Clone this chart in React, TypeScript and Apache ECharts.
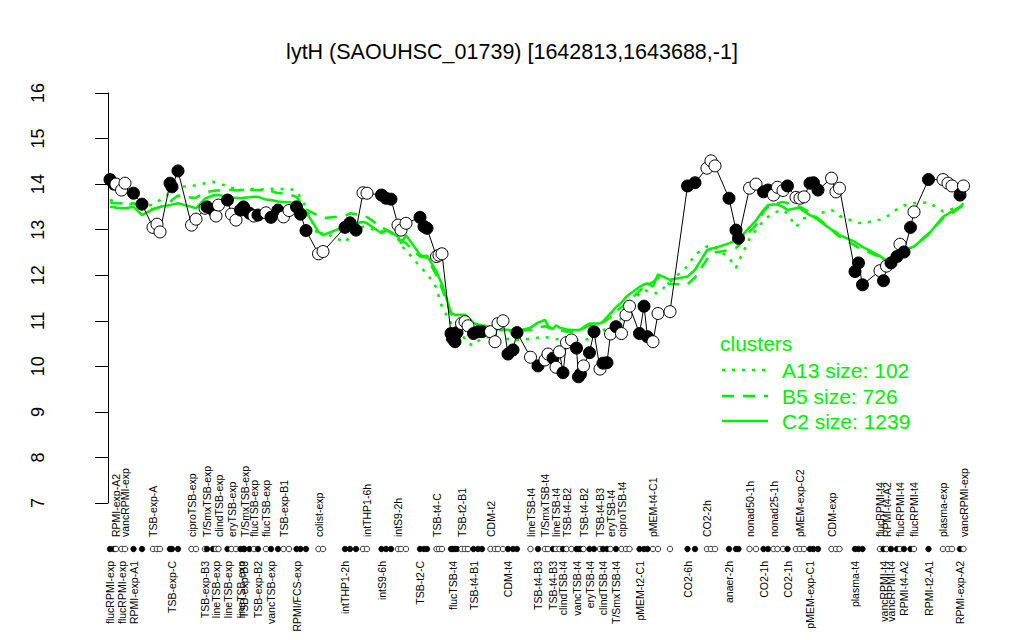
import React, { useEffect, useRef } from 'react';
import * as echarts from 'echarts';

const FONT = '"Liberation Sans", Arial, Helvetica, sans-serif';
const GREEN = '#00ee00';

const titleText = 'lytH (SAOUHSC_01739) [1642813,1643688,-1]';

// position of each sample along the profile (arbitrary ordering units)
const samplePos = [
  1, 3, 4, 6.75, 8.5, 12.75, 17, 22.5, 24.5, 26,
  31, 32, 35, 41.75, 44, 48.5, 49.5, 52.5, 54, 55.25,
  59.75, 61.75, 64, 66.25, 67.75, 68.25, 70.75, 73, 75, 79,
  81.5, 85, 87.75, 90.5, 94.25, 96.25, 99, 105.25, 107.5, 118.5,
  121, 124, 127.5, 129.5, 136.75, 139, 141.5, 145, 146.5, 149,
  156, 158, 159.5, 164.25, 165.5, 167, 171.5, 172.25, 173.5, 174.5,
  176.75, 178.5, 180, 182.75, 185, 187, 191.25, 193.5, 195, 197.5,
  200, 202.5, 204.5, 211.25, 215, 218.5, 220, 222.5, 224, 225.75,
  227.5, 229.25, 231.75, 234.25, 235.25, 236.25, 237.75, 240.75, 243, 246,
  247.5, 249.5, 251.25, 254, 256.75, 259, 260.75, 265.75, 268, 269.75,
  272.5, 275, 281, 289.75, 293.5, 299.5, 301.5, 303.5, 310.5, 314,
  315.25, 320.75, 324, 327.75, 330, 332.75, 334.75, 337.5, 339.75, 344,
  346, 348, 351, 352.75, 355, 361.75, 364, 365.75, 373.5, 375.25,
  377.25, 386, 387.75, 389.25, 391.5, 394.5, 396, 398, 401.25, 403,
  410.25, 417.5, 420, 422, 426, 427.75,
];

// expression of lytH in each sample
const expression = [
  14.10, 14.00, 14.00, 13.87, 14.02, 13.80, 13.56, 13.05, 13.12, 12.95,
  14.02, 13.94, 14.29, 13.10, 13.23, 13.47, 13.50, 13.43, 13.30, 13.54,
  13.65, 13.34, 13.21, 13.43, 13.50, 13.45, 13.36, 13.30, 13.32, 13.37,
  13.27, 13.43, 13.28, 13.42, 13.50, 13.34, 12.98, 12.47, 12.52, 13.05,
  13.15, 12.99, 13.81, 13.80, 13.76, 13.69, 13.67, 13.10, 12.99, 13.14,
  13.27, 13.07, 13.03, 12.41, 12.44, 12.47, 10.72, 10.61, 10.54, 10.74,
  10.94, 10.98, 10.89, 10.72, 10.76, 10.76, 10.76, 10.54, 10.94, 11.00,
  10.27, 10.36, 10.74, 10.20, 10.01, 10.14, 10.27, 10.18, 9.98, 10.32,
  9.86, 10.52, 10.58, 10.40, 9.77, 9.83, 10.01, 10.30, 10.76, 9.94,
  10.07, 10.08, 10.71, 10.87, 10.72, 11.13, 11.32, 10.72, 11.32, 10.65,
  10.54, 11.16, 11.20, 13.96, 14.03, 14.35, 14.51, 14.40, 13.69, 12.99,
  12.81, 13.91, 14.00, 13.83, 13.87, 13.76, 13.93, 13.86, 13.96, 13.71,
  13.69, 13.72, 14.02, 14.03, 13.87, 14.13, 13.83, 13.91, 12.08, 12.27,
  11.79, 12.10, 11.88, 12.20, 12.27, 12.41, 12.68, 12.51, 13.05, 13.39,
  14.10, 14.10, 14.02, 13.96, 13.76, 13.96,
];

// 1 = filled marker, 0 = open marker
const filledFlags = [
  1, 1, 0, 0, 0, 1, 1, 0, 0, 0,
  1, 1, 1, 0, 0, 0, 1, 1, 0, 0,
  1, 0, 0, 1, 1, 1, 1, 0, 1, 0,
  1, 1, 0, 0, 1, 1, 1, 0, 0, 1,
  1, 1, 0, 0, 1, 1, 1, 0, 0, 0,
  1, 1, 1, 0, 0, 0, 1, 1, 1, 1,
  0, 0, 0, 1, 1, 1, 0, 0, 0, 0,
  1, 1, 1, 0, 1, 0, 0, 1, 0, 0,
  1, 0, 0, 1, 1, 1, 0, 1, 1, 0,
  1, 1, 0, 1, 0, 0, 0, 1, 1, 1,
  0, 0, 0, 1, 1, 0, 0, 0, 1, 1,
  1, 0, 0, 1, 1, 0, 0, 0, 1, 0,
  0, 0, 1, 1, 1, 0, 0, 0, 1, 1,
  1, 0, 1, 0, 1, 1, 0, 1, 1, 0,
  1, 0, 0, 0, 1, 0,
];

// cluster mean profiles
const clusterC2 = [
  13.50, 13.50, 13.48, 13.47, 13.47, 13.50, 13.32, 13.45, 13.47, 13.50,
  13.54, 13.55, 13.58, 13.50, 13.47, 13.68, 13.70, 13.75, 13.76, 13.76,
  13.72, 13.70, 13.70, 13.69, 13.70, 13.70, 13.71, 13.72, 13.72, 13.66,
  13.65, 13.62, 13.61, 13.60, 13.58, 13.50, 13.39, 12.95, 12.88, 13.07,
  13.12, 13.14, 13.17, 13.14, 12.92, 12.99, 12.93, 12.85, 12.70, 12.88,
  12.45, 12.41, 12.43, 12.08, 11.95, 11.80, 11.18, 11.16, 11.13, 11.13,
  11.13, 11.13, 11.08, 10.95, 10.92, 10.90, 10.86, 10.84, 10.82, 10.81,
  10.80, 10.78, 10.77, 10.85, 10.96, 11.02, 10.88, 10.82, 10.90, 10.85,
  10.83, 10.81, 10.80, 10.80, 10.80, 10.81, 10.86, 10.94, 10.94, 10.94,
  10.98, 11.08, 11.16, 11.30, 11.40, 11.52, 11.58, 11.74, 11.80, 11.82,
  11.75, 12.02, 11.90, 11.97, 12.12, 12.55, 12.58, 12.60, 12.70, 12.77,
  12.78, 13.05, 13.20, 13.43, 13.54, 13.55, 13.55, 13.50, 13.43, 13.47,
  13.47, 13.40, 13.32, 13.28, 13.22, 13.00, 12.95, 12.88, 12.73, 12.68,
  12.62, 12.42, 12.36, 12.33, 12.40, 12.48, 12.52, 12.54, 12.60, 12.63,
  12.90, 13.28, 13.35, 13.40, 13.50, 13.58,
];

const clusterB5 = [
  13.60, 13.58, 13.58, 13.58, 13.58, 13.58, 13.50, 13.45, 13.48, 13.50,
  13.60, 13.65, 13.75, 13.70, 13.70, 13.82, 13.83, 13.85, 13.86, 13.86,
  13.87, 13.87, 13.86, 13.87, 13.87, 13.87, 13.87, 13.87, 13.87, 13.86,
  13.85, 13.80, 13.80, 13.77, 13.72, 13.60, 13.45, 13.30, 13.25, 13.30,
  13.36, 13.34, 13.30, 13.28, 13.05, 13.00, 12.95, 12.85, 12.78, 12.70,
  12.41, 12.40, 12.38, 12.00, 11.88, 11.70, 11.15, 11.12, 11.05, 11.00,
  10.95, 10.92, 10.90, 10.88, 10.85, 10.83, 10.80, 10.80, 10.80, 10.80,
  10.80, 10.78, 10.78, 10.80, 10.85, 10.88, 10.85, 10.82, 10.80, 10.79,
  10.78, 10.76, 10.76, 10.77, 10.78, 10.80, 10.84, 10.90, 10.93, 10.95,
  10.97, 11.02, 11.08, 11.20, 11.30, 11.38, 11.45, 11.65, 11.75, 11.80,
  11.85, 11.95, 11.80, 11.80, 11.95, 12.35, 12.45, 12.50, 12.55, 12.60,
  12.65, 12.95, 13.10, 13.40, 13.50, 13.55, 13.58, 13.61, 13.58, 13.52,
  13.50, 13.45, 13.38, 13.32, 13.25, 13.00, 12.90, 12.85, 12.65, 12.60,
  12.56, 12.40, 12.32, 12.28, 12.36, 12.45, 12.50, 12.53, 12.60, 12.63,
  12.92, 13.25, 13.33, 13.37, 13.48, 13.55,
];

const clusterA13 = [
  13.65, 13.62, 13.60, 13.58, 13.57, 13.55, 13.50, 13.55, 13.60, 13.65,
  13.80, 13.85, 13.95, 13.95, 13.98, 14.02, 14.03, 14.05, 14.03, 14.00,
  13.97, 13.92, 13.90, 13.88, 13.87, 13.87, 13.88, 13.90, 13.89, 13.88,
  13.90, 13.88, 13.90, 13.90, 13.85, 13.70, 13.50, 12.85, 12.95, 12.72,
  12.85, 12.95, 13.07, 13.04, 12.96, 12.99, 12.92, 12.80, 12.65, 12.55,
  12.19, 12.10, 12.04, 11.72, 11.52, 11.30, 10.95, 10.92, 10.85, 10.80,
  10.70, 10.60, 10.50, 10.46, 10.55, 10.62, 10.65, 10.63, 10.61, 10.60,
  10.60, 10.58, 10.58, 10.60, 10.63, 10.65, 10.63, 10.61, 10.60, 10.59,
  10.58, 10.58, 10.58, 10.58, 10.58, 10.58, 10.58, 10.60, 10.65, 10.76,
  10.79, 10.83, 10.88, 10.95, 11.05, 11.20, 11.28, 11.60, 11.68, 11.65,
  11.62, 11.60, 11.85, 12.20, 12.45, 12.63, 12.65, 12.62, 12.38, 12.16,
  12.30, 12.80, 12.99, 13.20, 13.28, 13.35, 13.40, 13.43, 13.35, 13.06,
  13.15, 13.25, 13.28, 13.28, 13.35, 13.43, 13.38, 13.30, 13.17, 13.15,
  13.14, 13.22, 13.26, 13.28, 13.35, 13.45, 13.50, 13.53, 13.56, 13.58,
  13.60, 13.40, 13.42, 13.45, 13.50, 13.55,
];

// [sample number (1-based), label] shown above the sample marker row
const upperLabels: [number, string][] = [
  [3, 'RPMI-exp-A2'], [5, 'vancRPMI-exp'], [8, 'TSB-exp-A'], [14, 'ciproTSB-exp'],
  [17, 'T/SmxTSB-exp'], [20, 'clindTSB-exp'], [22, 'eryTSB-exp'], [26, 'T/SmxTSB-exp'],
  [28, 'flucTSB-exp'], [30, 'flucTSB-exp'], [33, 'TSB-exp-B1'], [38, 'colist-exp'],
  [44, 'intTHP1-6h'], [48, 'intS9-2h'], [54, 'TSB-t4-C'], [61, 'TSB-t2-B1'],
  [67, 'CDM-t2'], [74, 'lineTSB-t4'], [76, 'T/SmxTSB-t4'], [79, 'lineTSB-t4'],
  [82, 'TSB-t4-B2'], [87, 'TSB-t4-B2'], [90, 'TSB-t4-B3'], [93, 'eryTSB-t4'],
  [95, 'ciproTSB-t4'], [101, 'pMEM-t4-C1'], [106, 'CO2-2h'], [112, 'nonad50-1h'],
  [116, 'nonad25-1h'], [121, 'pMEM-exp-C2'], [126, 'CDM-exp'], [132, 'flucRPMI-t4'],
  [134, 'RPMI-t4-A2'], [137, 'flucRPMI-t4'], [140, 'flucRPMI-t4'], [142, 'plasma-exp'],
  [146, 'vancRPMI-exp'],
];

// [sample number (1-based), label] shown below the sample marker row
const lowerLabels: [number, string][] = [
  [1, 'flucRPMI-exp'], [4, 'flucRPMI-exp'], [6, 'RPMI-exp-A1'], [12, 'TSB-exp-C'],
  [16, 'TSB-exp-B3'], [19, 'lineTSB-exp'], [21, 'lineTSB-exp'], [24, 'lineTSB-exp'],
  [25, 'TSB-exp-B3'], [29, 'TSB-exp-B2'], [31, 'vancTSB-exp'], [35, 'RPMI/FCS-exp'],
  [40, 'intTHP1-2h'], [45, 'intS9-6h'], [51, 'TSB-t2-C'], [58, 'flucTSB-t4'],
  [64, 'TSB-t4-B1'], [71, 'CDM-t4'], [75, 'TSB-t4-B3'], [78, 'TSB-t4-B3'],
  [81, 'clindTSB-t4'], [84, 'vancTSB-t4'], [88, 'eryTSB-t4'], [91, 'clindTSB-t4'],
  [94, 'T/SmxTSB-t4'], [98, 'pMEM-t2-C1'], [104, 'CO2-6h'], [109, 'anaer-2h'],
  [114, 'CO2-1h'], [119, 'CO2-1h'], [123, 'pMEM-exp-C1'], [129, 'plasma-t4'],
  [133, 'vancRPMI-t4'], [135, 'vancRPMI-t4'], [138, 'RPMI-t4-A2'], [141, 'RPMI-t2-A1'],
  [145, 'RPMI-exp-A2'],
];

const clusterNames = ['A13 size: 102', 'B5 size: 726', 'C2 size: 1239'];
const yTickRange = { min: 7, max: 16, step: 1 };
const xRange = { min: -15.5, max: 445.5 };

function labelAxis(entries: [number, string][], position: 'top' | 'bottom') {
  const lookup = new Map<string, string>();
  // empty sentinel labels at both ends so that no real label is treated as min/max label
  const values: number[] = [xRange.min];
  entries.forEach(([n, name]) => {
    const v = samplePos[n - 1];
    values.push(v);
    lookup.set(String(v), name);
  });
  values.push(xRange.max);
  return {
    gridIndex: 1,
    type: 'value',
    position,
    min: xRange.min,
    max: xRange.max,
    axisLine: { show: false },
    axisTick: { show: false },
    splitLine: { show: false },
    axisLabel: {
      customValues: values,
      formatter: (v: number) => lookup.get(String(v)) ?? '',
      rotate: 90,
      fontSize: 10.5,
      fontFamily: FONT,
      color: '#000',
      margin: 4,
      hideOverlap: false,
    },
  };
}

export default function App() {
  const ref = useRef<HTMLDivElement>(null);

  useEffect(() => {
    document.body.style.margin = '0';
    if (!ref.current) return;
    const chart = echarts.init(ref.current, undefined, { renderer: 'svg' });

    const pointData = samplePos.map((p, i) => ({
      value: [p, expression[i]],
      itemStyle: { color: filledFlags[i] ? '#000' : '#fff' },
    }));
    const rowData = samplePos.map((p, i) => ({
      value: [p, 0],
      itemStyle: { color: filledFlags[i] ? '#000' : '#fff' },
    }));
    const lineOf = (arr: number[]) => samplePos.map((p, i) => [p, arr[i]]);

    const legendY = [370, 396, 421];
    const dashes: any[] = [[3, 7], [12, 9], null];

    const option: any = {
      animation: false,
      title: {
        text: titleText,
        left: 'center',
        top: 36,
        textStyle: { fontSize: 21.5, fontWeight: 'normal', fontFamily: FONT, color: '#000' },
      },
      grid: [
        { left: 77, right: 25, top: 93, bottom: 137 },
        { left: 77, right: 25, top: 541, height: 16 },
      ],
      xAxis: [
        { gridIndex: 0, type: 'value', min: xRange.min, max: xRange.max, show: false },
        labelAxis(upperLabels, 'top'),
        labelAxis(lowerLabels, 'bottom'),
      ],
      yAxis: [
        {
          gridIndex: 0,
          type: 'value',
          min: yTickRange.min,
          max: yTickRange.max,
          interval: yTickRange.step,
          axisLine: { show: true, lineStyle: { color: '#000', width: 1 } },
          axisTick: { show: true, length: 13, lineStyle: { color: '#000', width: 1 } },
          axisLabel: {
            rotate: 90,
            fontSize: 18,
            fontFamily: FONT,
            color: '#000',
            margin: 30,
          },
          splitLine: { show: false },
        },
        { gridIndex: 1, type: 'value', min: -1, max: 1, show: false },
      ],
      series: [
        {
          type: 'line', name: 'A13', data: lineOf(clusterA13), symbol: 'none', silent: true,
          lineStyle: { color: GREEN, width: 2.5, type: dashes[0] }, z: 1,
        },
        {
          type: 'line', name: 'B5', data: lineOf(clusterB5), symbol: 'none', silent: true,
          lineStyle: { color: GREEN, width: 2.5, type: dashes[1] }, z: 1,
        },
        {
          type: 'line', name: 'C2', data: lineOf(clusterC2), symbol: 'none', silent: true,
          lineStyle: { color: GREEN, width: 2.5, type: 'solid' }, z: 1,
        },
        {
          type: 'line', name: 'profile', data: lineOf(expression), symbol: 'none', silent: true,
          lineStyle: { color: '#000', width: 1 }, z: 2,
        },
        {
          type: 'scatter', name: 'samples', data: pointData, symbol: 'circle', symbolSize: 12,
          itemStyle: { borderColor: '#000', borderWidth: 1, opacity: 1 }, z: 3,
        },
        {
          type: 'scatter', name: 'row', xAxisIndex: 1, yAxisIndex: 1, data: rowData,
          symbol: 'circle', symbolSize: 5.5,
          itemStyle: { borderColor: '#000', borderWidth: 0.8, opacity: 1 }, z: 3,
        },
      ],
      graphic: [
        {
          type: 'text', x: 720, y: 343,
          style: { text: 'clusters', fill: GREEN, fontSize: 21, fontFamily: FONT, verticalAlign: 'middle' },
        },
        ...clusterNames.flatMap((name, i) => [
          {
            type: 'line',
            shape: { x1: 722, y1: legendY[i], x2: 768, y2: legendY[i] },
            style: { stroke: GREEN, lineWidth: 2.5, lineDash: dashes[i] || undefined },
          },
          {
            type: 'text', x: 782, y: legendY[i],
            style: { text: name, fill: GREEN, fontSize: 21, fontFamily: FONT, verticalAlign: 'middle' },
          },
        ]),
      ],
    };

    chart.setOption(option);
    return () => chart.dispose();
  }, []);

  return <div ref={ref} style={{ width: 1024, height: 640 }} />;
}
